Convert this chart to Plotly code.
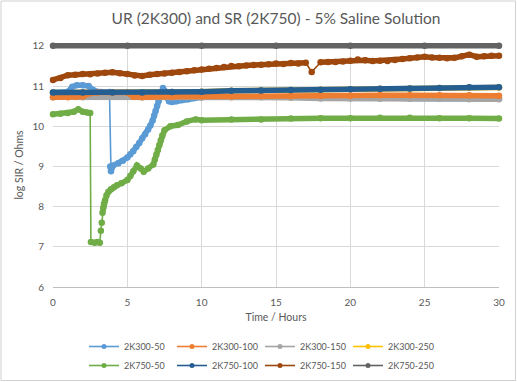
import plotly.graph_objects as go

# ---------------- data ----------------
SERIES_NAMES = ["2K300-50", "2K300-100", "2K300-150", "2K300-250",
                "2K750-50", "2K750-100", "2K750-150", "2K750-250"]

t_2k300_50 = [0, 1, 1.3, 1.6, 2, 2.4, 2.7, 3.2, 3.8, 3.85, 3.9, 4.05, 4.4, 4.7, 5.0, 5.2, 5.4, 5.6,
              5.8, 6.0, 6.2, 6.4, 6.55, 6.7, 6.8, 6.9, 7.0, 7.1, 7.2, 7.3, 7.4, 7.5, 7.6, 7.7, 7.8,
              8.0, 8.3, 8.7, 9.1, 9.5, 10, 12, 14, 16, 18, 20, 22, 24, 26, 28, 30]
v_2k300_50 = [10.84, 10.86, 10.98, 11.02, 11.02, 11.0, 10.9, 10.85, 10.85, 9.0, 8.88, 9.02, 9.08,
              9.14, 9.22, 9.3, 9.38, 9.48, 9.58, 9.7, 9.8, 9.92, 10.02, 10.14, 10.26, 10.38, 10.5,
              10.62, 10.74, 10.86, 10.95, 10.88, 10.8, 10.7, 10.62, 10.6, 10.62, 10.65, 10.67, 10.7,
              10.72, 10.73, 10.73, 10.72, 10.71, 10.7, 10.7, 10.69, 10.69, 10.68, 10.68]

t_2k300_100 = [0, 0.5, 1, 1.5, 2, 2.5, 3, 4, 5, 5.4, 6, 8, 10, 12, 14, 16, 18, 20, 22, 24, 26, 28, 30]
v_2k300_100 = [10.72, 10.73, 10.72, 10.73, 10.74, 10.82, 10.84, 10.84, 10.84, 10.73, 10.72, 10.73,
               10.74, 10.74, 10.75, 10.75, 10.76, 10.76, 10.77, 10.77, 10.77, 10.77, 10.76]

t_2k300_150 = [0, 2, 4, 6, 8, 10, 12, 14, 16, 18, 20, 22, 24, 26, 28, 30]
v_2k300_150 = [10.72, 10.72, 10.73, 10.72, 10.72, 10.72, 10.72, 10.72, 10.71, 10.69, 10.69, 10.68,
               10.68, 10.68, 10.67, 10.67]

t_2k300_250 = [0, 2, 4, 6, 8, 10, 12, 14, 16, 18, 20, 22, 24, 26, 28, 30]
v_2k300_250 = [10.84, 10.84, 10.84, 10.84, 10.85, 10.86, 10.88, 10.89, 10.9, 10.91, 10.92, 10.93,
               10.94, 10.95, 10.96, 10.96]

t_2k750_50 = [0, 0.5, 1, 1.4, 1.7, 2.0, 2.3, 2.5, 2.55, 2.8, 3.0, 3.15, 3.22, 3.28, 3.33, 3.38, 3.43,
              3.5, 3.6, 3.73, 3.9, 4.1, 4.3, 4.6, 5.0, 5.2, 5.4, 5.65, 5.9, 6.1, 6.4, 6.75, 6.85,
              6.95, 7.05, 7.15, 7.25, 7.35, 7.5, 7.9, 8.4, 9.0, 9.6, 10, 12, 14, 16, 18, 20, 22,
              24, 26, 28, 30]
v_2k750_50 = [10.3, 10.31, 10.33, 10.36, 10.42, 10.36, 10.34, 10.33, 7.12, 7.1, 7.12, 7.1, 7.4, 7.6,
              7.85, 7.97, 8.07, 8.16, 8.28, 8.37, 8.43, 8.48, 8.53, 8.58, 8.66, 8.76, 8.88, 9.02,
              8.95, 8.87, 8.95, 9.05, 9.17, 9.29, 9.41, 9.53, 9.65, 9.77, 9.9, 10.0, 10.03, 10.12,
              10.17, 10.15, 10.17, 10.17, 10.19, 10.2, 10.2, 10.21, 10.21, 10.2, 10.2, 10.19]

t_2k750_100 = [0, 2, 4, 6, 8, 10, 12, 14, 16, 18, 20, 22, 24, 26, 28, 30]
v_2k750_100 = [10.84, 10.84, 10.84, 10.84, 10.85, 10.86, 10.88, 10.89, 10.9, 10.91, 10.92, 10.93,
               10.94, 10.95, 10.97, 10.97]

t_2k750_150 = [0, 0.5, 1, 1.5, 2, 2.5, 3, 3.5, 4, 4.5, 5, 5.5, 6, 6.5, 7, 7.5, 8, 8.5, 9, 9.5, 10,
               10.5, 11, 11.5, 12, 12.5, 13, 13.5, 14, 14.5, 15, 15.5, 16, 16.5, 17, 17.4, 18,
               18.5, 19, 19.5, 20, 20.5, 21, 21.5, 22, 22.5, 23, 23.5, 24, 24.5, 25, 25.5, 26,
               26.5, 27, 27.5, 28, 28.5, 29, 29.5, 30]
v_2k750_150 = [11.15, 11.2, 11.27, 11.28, 11.3, 11.29, 11.31, 11.33, 11.34, 11.32, 11.3, 11.26,
               11.25, 11.28, 11.3, 11.31, 11.33, 11.35, 11.37, 11.39, 11.41, 11.43, 11.45, 11.47,
               11.5, 11.49, 11.51, 11.52, 11.53, 11.54, 11.56, 11.55, 11.57, 11.56, 11.58, 11.35,
               11.59, 11.6, 11.6, 11.61, 11.63, 11.66, 11.64, 11.62, 11.63, 11.62, 11.65, 11.67,
               11.69, 11.71, 11.73, 11.71, 11.7, 11.69, 11.7, 11.74, 11.78, 11.73, 11.74, 11.75,
               11.75]

t_2k750_250 = [0, 5, 10, 15, 20, 25, 30]
v_2k750_250 = [12.0, 12.0, 12.0, 12.0, 12.0, 12.0, 12.0]

X_TICKS = [0, 5, 10, 15, 20, 25, 30]
Y_TICKS = [6, 7, 8, 9, 10, 11, 12]

# ---------------- styling ----------------
COLORS = {
    "2K300-50": "#5B9BD5", "2K300-100": "#ED7D31", "2K300-150": "#A5A5A5",
    "2K300-250": "#FFC000", "2K750-50": "#70AD47", "2K750-100": "#255E91",
    "2K750-150": "#9E480E", "2K750-250": "#636363",
}
DATA = {
    "2K300-50": (t_2k300_50, v_2k300_50),
    "2K300-100": (t_2k300_100, v_2k300_100),
    "2K300-150": (t_2k300_150, v_2k300_150),
    "2K300-250": (t_2k300_250, v_2k300_250),
    "2K750-50": (t_2k750_50, v_2k750_50),
    "2K750-100": (t_2k750_100, v_2k750_100),
    "2K750-150": (t_2k750_150, v_2k750_150),
    "2K750-250": (t_2k750_250, v_2k750_250),
}
# drawing order (bottom -> top); legend order kept via legendrank
DRAW_ORDER = ["2K300-250", "2K300-50", "2K300-150", "2K300-100",
              "2K750-50", "2K750-100", "2K750-150", "2K750-250"]
JUMP = 0.15  # thin connector where consecutive readings jump


def broken(ts, vs):
    xs, ys = [], []
    for i, (t, v) in enumerate(zip(ts, vs)):
        if i > 0 and abs(v - vs[i - 1]) > JUMP:
            xs.append(None)
            ys.append(None)
        xs.append(t)
        ys.append(v)
    return xs, ys


fig = go.Figure()
for name in DRAW_ORDER:
    ts, vs = DATA[name]
    c = COLORS[name]
    rank = SERIES_NAMES.index(name) + 1
    leg = "legend" if name.startswith("2K300") else "legend2"
    fig.add_trace(go.Scatter(
        x=ts, y=vs, name=name, mode="lines+markers", legendrank=rank, legend=leg,
        line=dict(color=c, width=1.6), marker=dict(color=c, size=5),
        cliponaxis=False, hoverinfo="skip"))
    bx, by = broken(ts, vs)
    fig.add_trace(go.Scatter(
        x=bx, y=by, mode="lines+markers", showlegend=False,
        line=dict(color=c, width=5.5), marker=dict(color=c, size=6.5),
        cliponaxis=False, connectgaps=False, hoverinfo="skip"))

FONT = "Lato"
TXT = "#595959"
L, R, T, B = 53, 18, 43, 95
W, H = 517, 382
pw, ph = W - L - R, H - T - B

LEG_LEFT = 84
legend_style = dict(orientation="h", xref="container", x=LEG_LEFT / W, xanchor="left",
                    yref="container", yanchor="top",
                    entrywidth=43, itemwidth=30, tracegroupgap=0,
                    font=dict(size=9, color=TXT, family=FONT),
                    bgcolor="rgba(0,0,0,0)")

fig.update_layout(
    width=W, height=H,
    margin=dict(l=L, r=R, t=T, b=B, pad=0, autoexpand=False),
    paper_bgcolor="white", plot_bgcolor="white",
    font=dict(family=FONT, color=TXT, size=10),
    title=dict(text="UR (2K300) and SR (2K750) - 5% Saline Solution",
               x=0.5, xref="paper", xanchor="center", y=1 - 19 / H, yanchor="middle",
               font=dict(size=15.5, color=TXT, family=FONT)),
    xaxis=dict(range=[0, 30], tickvals=X_TICKS, showgrid=True, gridcolor="#d9d9d9",
               gridwidth=1, zeroline=False, showline=True, linecolor="#bfbfbf",
               ticks="", ticklabelstandoff=6, tickfont=dict(size=10, color=TXT),
               title=dict(text="Time / Hours", font=dict(size=10.5, color=TXT), standoff=6)),
    yaxis=dict(range=[6, 12.07], tickvals=Y_TICKS, showgrid=True, gridcolor="#d9d9d9",
               gridwidth=1, zeroline=False, showline=False, ticks="",
               ticklabelstandoff=8, tickfont=dict(size=10, color=TXT),
               title=dict(text="log SIR / Ohms", font=dict(size=10.5, color=TXT), standoff=6)),
    legend=dict(legend_style, y=1 - 332 / H),
    legend2=dict(legend_style, y=1 - 351 / H),
    showlegend=True,
)

# outer chart border
fig.add_shape(type="rect", xref="paper", yref="paper",
              x0=(1 - L) / pw, x1=(W - 1.5 - L) / pw,
              y0=(H - B - (H - 1.5)) / ph, y1=(H - B - 1) / ph,
              line=dict(color="#d0d0d0", width=1), fillcolor="rgba(0,0,0,0)", layer="above")

fig.write_html("out.html", post_script="document.body.style.margin='0';",
               config={"displayModeBar": False})
